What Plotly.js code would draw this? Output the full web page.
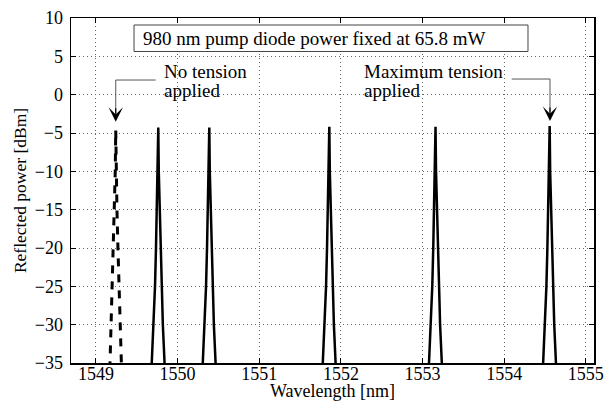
<!DOCTYPE html>
<html>
<head>
<meta charset="utf-8">
<script src="https://cdn.plot.ly/plotly-3.0.1.min.js"></script>
<style>html,body{margin:0;padding:0;background:#fff;}#chart{width:605px;height:403px;}</style>
</head>
<body>
<div id="chart"></div>
<script>
// No tension applied (dashed)
const wlNoTension = [1549.159, 1549.172, 1549.187, 1549.202, 1549.215, 1549.227, 1549.236, 1549.242, 1549.248, 1549.257, 1549.269, 1549.282, 1549.297, 1549.312, 1549.325];
const pNoTension  = [-40, -35, -30, -25, -20, -15, -10, -4.6, -10, -15, -20, -25, -30, -35, -40];

// Increasing tension (solid)
const wlPeak1 = [1549.663, 1549.686, 1549.707, 1549.723, 1549.735, 1549.745, 1549.757, 1549.763, 1549.769, 1549.781, 1549.791, 1549.803, 1549.819, 1549.840, 1549.863];
const pPeak1  = [-40, -35, -30, -25, -20, -15, -10, -4.3, -10, -15, -20, -25, -30, -35, -40];
const wlPeak2 = [1550.288, 1550.311, 1550.332, 1550.348, 1550.360, 1550.370, 1550.382, 1550.388, 1550.394, 1550.406, 1550.416, 1550.428, 1550.444, 1550.465, 1550.488];
const pPeak2  = [-40, -35, -30, -25, -20, -15, -10, -4.3, -10, -15, -20, -25, -30, -35, -40];
const wlPeak3 = [1551.758, 1551.781, 1551.802, 1551.818, 1551.830, 1551.840, 1551.852, 1551.858, 1551.864, 1551.876, 1551.886, 1551.898, 1551.914, 1551.935, 1551.958];
const pPeak3  = [-40, -35, -30, -25, -20, -15, -10, -4.2, -10, -15, -20, -25, -30, -35, -40];
const wlPeak4 = [1553.059, 1553.082, 1553.103, 1553.119, 1553.131, 1553.141, 1553.153, 1553.159, 1553.165, 1553.177, 1553.187, 1553.199, 1553.215, 1553.236, 1553.259];
const pPeak4  = [-40, -35, -30, -25, -20, -15, -10, -4.2, -10, -15, -20, -25, -30, -35, -40];
// Maximum tension applied
const wlPeak5 = [1554.457, 1554.480, 1554.501, 1554.517, 1554.529, 1554.539, 1554.551, 1554.557, 1554.563, 1554.575, 1554.585, 1554.597, 1554.613, 1554.634, 1554.657];
const pPeak5  = [-40, -35, -30, -25, -20, -15, -10, -4.1, -10, -15, -20, -25, -30, -35, -40];

const xTicks = [1549, 1550, 1551, 1552, 1553, 1554, 1555];
const yTicks = [-35, -30, -25, -20, -15, -10, -5, 0, 5, 10];

const FONT = '"Liberation Serif", "Times New Roman", serif';

const solidPeaks = [[wlPeak1, pPeak1], [wlPeak2, pPeak2], [wlPeak3, pPeak3], [wlPeak4, pPeak4], [wlPeak5, pPeak5]];

const traces = [{
  x: wlNoTension, y: pNoTension, type: 'scatter', mode: 'lines',
  line: {color: '#000', width: 3, dash: '8px,8px'},
  name: 'No tension', showlegend: false, hoverinfo: 'x+y'
}];
solidPeaks.forEach(function (p, i) {
  traces.push({
    x: p[0], y: p[1], type: 'scatter', mode: 'lines',
    line: {color: '#000', width: 2.5},
    name: 'Peak ' + (i + 1), showlegend: false, hoverinfo: 'x+y'
  });
});

const axisCommon = {
  showline: true, linecolor: '#000', linewidth: 1.5, mirror: 'ticks',
  ticks: 'inside', ticklen: 5, tickwidth: 1, tickcolor: '#000',
  showgrid: true, gridcolor: '#666', gridwidth: 1, griddash: '1px,3px',
  zeroline: false, tickfont: {family: FONT, size: 18, color: '#000'}
};

const layout = {
  width: 605, height: 403,
  margin: {l: 71, r: 11, t: 18, b: 40},
  paper_bgcolor: '#fff', plot_bgcolor: '#fff',
  showlegend: false,
  font: {family: FONT, color: '#000'},
  xaxis: Object.assign({}, axisCommon, {
    range: [1548.694, 1555.1], tickmode: 'array', tickvals: xTicks,
    ticktext: xTicks.map(String), ticklabelstandoff: -6
  }),
  yaxis: Object.assign({}, axisCommon, {
    range: [-35, 10], tickmode: 'array', tickvals: yTicks, ticklabelstandoff: 3,
    title: {text: 'Reflected power [dBm]', font: {family: FONT, size: 17.5, color: '#000'}, standoff: 3}
  }),
  shapes: [
    {type: 'rect', xref: 'paper', yref: 'paper', x0: 0.1205, x1: 0.8738, y0: 0.9029, y1: 0.9797,
     line: {color: '#444', width: 1}, fillcolor: 'rgba(255,255,255,1)', layer: 'above'},
    {type: 'path', xref: 'x', yref: 'y', path: 'M 1549.731 1.91 L 1549.242 1.91 L 1549.242 -2.4',
     line: {color: '#555', width: 1}},
    {type: 'path', xref: 'x', yref: 'y', path: 'M 1554.092 2.04 L 1554.561 2.04 L 1554.561 -2.3',
     line: {color: '#555', width: 1}}
  ],
  annotations: [
    {xref: 'paper', yref: 'paper', x: 0.5, y: -0.082, xanchor: 'center', yanchor: 'middle',
     text: 'Wavelength [nm]', showarrow: false, font: {family: FONT, size: 18, color: '#000'}},
    {xref: 'paper', yref: 'paper', x: 0.1335, y: 0.942, xanchor: 'left', yanchor: 'middle',
     text: '980 nm pump diode power fixed at 65.8 mW', showarrow: false,
     font: {family: FONT, size: 19, color: '#000'}},
    {xref: 'paper', yref: 'paper', x: 0.1745, y: 0.8443, xanchor: 'left', yanchor: 'middle',
     text: 'No tension', showarrow: false, font: {family: FONT, size: 19, color: '#000'}},
    {xref: 'paper', yref: 'paper', x: 0.1745, y: 0.7913, xanchor: 'left', yanchor: 'middle',
     text: 'applied', showarrow: false, font: {family: FONT, size: 19, color: '#000'}},
    {xref: 'paper', yref: 'paper', x: 0.557, y: 0.8443, xanchor: 'left', yanchor: 'middle',
     text: 'Maximum tension', showarrow: false, font: {family: FONT, size: 19, color: '#000'}},
    {xref: 'paper', yref: 'paper', x: 0.557, y: 0.7913, xanchor: 'left', yanchor: 'middle',
     text: 'applied', showarrow: false, font: {family: FONT, size: 19, color: '#000'}},
    {xref: 'x', yref: 'y', x: 1549.242, y: -3.53, ax: 0, ay: -15, text: '', showarrow: true,
     arrowhead: 3, arrowsize: 2, arrowwidth: 1.2, arrowcolor: '#000', standoff: 0},
    {xref: 'x', yref: 'y', x: 1554.561, y: -3.43, ax: 0, ay: -15, text: '', showarrow: true,
     arrowhead: 3, arrowsize: 2, arrowwidth: 1.2, arrowcolor: '#000', standoff: 0}
  ]
};

Plotly.newPlot('chart', traces, layout, {staticPlot: true, displayModeBar: false});
</script>
</body>
</html>
